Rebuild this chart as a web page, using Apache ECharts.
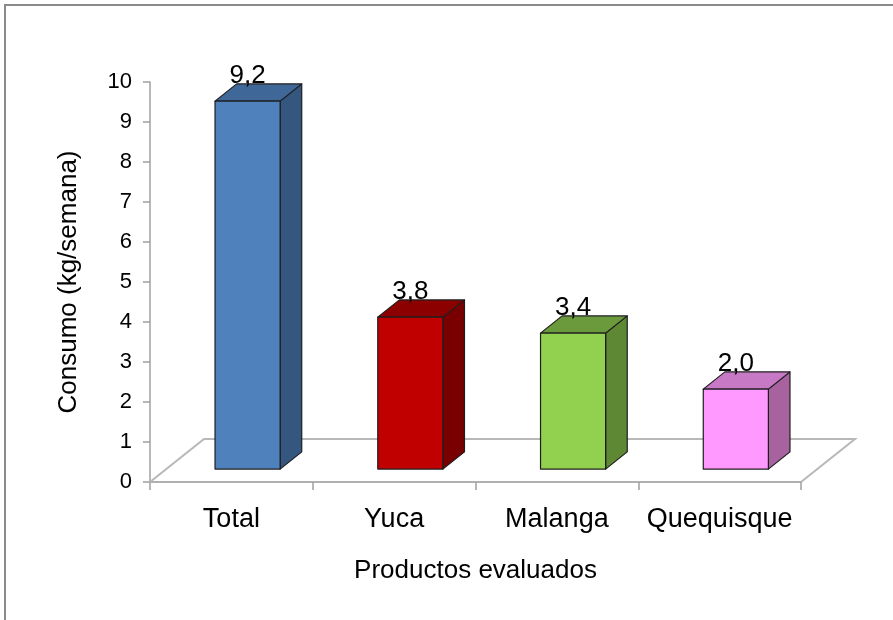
<!DOCTYPE html>
<html>
<head>
<meta charset="utf-8">
<script src="https://cdn.jsdelivr.net/npm/echarts@6/dist/echarts.min.js"></script>
<style>
  html, body { margin: 0; padding: 0; background: #fff; }
  #chart { width: 893px; height: 620px; }
</style>
</head>
<body>
<div id="chart"></div>
<script>
// Weekly consumption per evaluated product
const categories = ['Total', 'Yuca', 'Malanga', 'Quequisque'];
const consumo = [9.2, 3.8, 3.4, 2.0];
const yTickMin = 0;
const yTickMax = 10;
const yTickStep = 1;

// Face colours for each bar: front, top, side
const palette = [
  { front: '#4f81bd', top: '#3f6899', side: '#34567f' },
  { front: '#c00000', top: '#8c0000', side: '#780000' },
  { front: '#92d050', top: '#6b9a3c', side: '#5e8834' },
  { front: '#ff99ff', top: '#c879c6', side: '#a8629f' }
];

const FONT = '"Liberation Sans", Arial, sans-serif';
// Oblique projection of the depth axis (pixels for full floor depth)
const DEPTH_X = 54;
const DEPTH_Y = 43;
const BAR_FRONT = 0.3;   // bar front face, fraction of floor depth
const BAR_DEPTH = 0.4;   // bar thickness, fraction of floor depth
const BAR_WIDTH = 0.4;   // bar width, fraction of category band

const fmt = v => v.toFixed(1).replace('.', ',');

function renderFloor(params, api) {
  const cs = params.coordSys;
  const x0 = cs.x, x1 = cs.x + cs.width;
  const y = api.coord([0, 0])[1];
  return {
    type: 'polyline',
    shape: {
      points: [
        [x0, y], [x0 + DEPTH_X, y - DEPTH_Y],
        [x1 + DEPTH_X, y - DEPTH_Y], [x1, y]
      ]
    },
    style: { stroke: '#b8b8b8', lineWidth: 2, fill: null },
    z2: 0
  };
}

function renderBar(params, api) {
  const i = api.value(0);
  const v = api.value(1);
  const base = api.coord([i, 0]);
  const top = api.coord([i, v]);
  const bw = api.size([1, 0])[0] * BAR_WIDTH;
  const ox = DEPTH_X * BAR_FRONT, oy = DEPTH_Y * BAR_FRONT;
  const dx = DEPTH_X * BAR_DEPTH, dy = DEPTH_Y * BAR_DEPTH;
  const xl = base[0] - bw / 2 + ox;
  const xr = xl + bw;
  const yb = base[1] - oy;
  const yt = top[1] - oy;
  const c = palette[params.dataIndex % palette.length];
  const edge = { stroke: '#1e1e1e', lineWidth: 1.2, lineJoin: 'round' };
  return {
    type: 'group',
    children: [
      {
        type: 'polygon',
        shape: { points: [[xr, yb], [xr, yt], [xr + dx, yt - dy], [xr + dx, yb - dy]] },
        style: Object.assign({ fill: c.side }, edge)
      },
      {
        type: 'polygon',
        shape: { points: [[xl, yt], [xr, yt], [xr + dx, yt - dy], [xl + dx, yt - dy]] },
        style: Object.assign({ fill: c.top }, edge)
      },
      {
        type: 'rect',
        shape: { x: xl, y: yt, width: bw, height: yb - yt },
        style: Object.assign({ fill: c.front }, edge)
      },
      {
        type: 'text',
        x: (xl + xr) / 2,
        y: yt - dy + 5,
        style: {
          text: fmt(v),
          fill: '#000',
          font: '26px ' + FONT,
          align: 'center',
          verticalAlign: 'bottom'
        },
        z2: 10
      }
    ]
  };
}

const chart = echarts.init(document.getElementById('chart'), null, { renderer: 'canvas' });
chart.setOption({
  backgroundColor: '#ffffff',
  animation: false,
  graphic: [{
    type: 'rect',
    shape: { x: 5, y: 5, width: 2000, height: 2000 },
    style: { fill: null, stroke: '#8a8a8a', lineWidth: 2 },
    silent: true
  }],
  grid: { left: 150, right: 92, top: 82, bottom: 138 },
  xAxis: {
    type: 'category',
    data: categories,
    boundaryGap: true,
    name: 'Productos evaluados',
    nameLocation: 'middle',
    nameGap: 76,
    nameTextStyle: { fontFamily: FONT, fontSize: 26, color: '#000' },
    axisLine: { show: true, lineStyle: { color: '#b0b0b0', width: 2 } },
    axisTick: { show: true, interval: 0, length: 8, lineStyle: { color: '#a0a0a0', width: 1.5 } },
    axisLabel: { interval: 0, fontFamily: FONT, fontSize: 27, color: '#000', margin: 24 }
  },
  yAxis: {
    type: 'value',
    min: yTickMin,
    max: yTickMax,
    interval: yTickStep,
    name: 'Consumo (kg/semana)',
    nameLocation: 'middle',
    nameGap: 68,
    nameTextStyle: { fontFamily: FONT, fontSize: 26, color: '#000' },
    axisLine: { show: true, lineStyle: { color: '#a0a0a0', width: 1.5 } },
    axisTick: { show: true, length: 7, lineStyle: { color: '#a0a0a0', width: 1.5 } },
    axisLabel: { fontFamily: FONT, fontSize: 22, color: '#000', margin: 18 },
    splitLine: { show: false }
  },
  series: [
    {
      type: 'custom',
      name: 'floor',
      renderItem: renderFloor,
      data: [[0, 0]],
      silent: true,
      z: 1
    },
    {
      type: 'custom',
      name: 'Consumo',
      renderItem: renderBar,
      encode: { x: 0, y: 1 },
      data: consumo.map((v, i) => [i, v]),
      z: 2
    }
  ]
});
</script>
</body>
</html>
